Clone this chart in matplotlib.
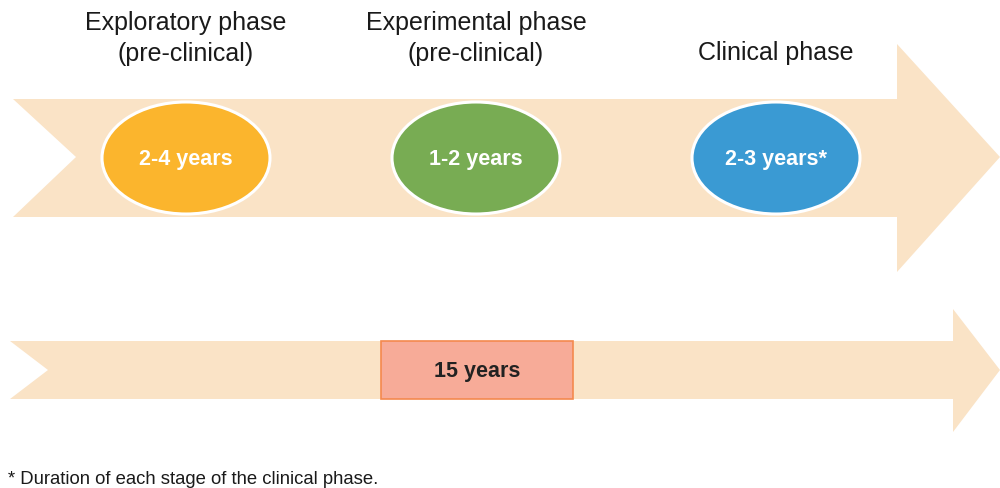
import matplotlib
matplotlib.use("Agg")
import matplotlib.pyplot as plt
from matplotlib.patches import Polygon, Ellipse, Rectangle

plt.rcParams["font.family"] = ["Liberation Sans", "DejaVu Sans"]

# phases along the top arrow
phase_titles = [["Exploratory phase", "(pre-clinical)"],
                ["Experimental phase", "(pre-clinical)"],
                ["Clinical phase"]]
phase_durations = ["2-4 years", "1-2 years", "2-3 years*"]
phase_colors = ["#FBB52D", "#78AC53", "#3A9AD3"]
phase_x = [186, 476, 776]

total_label = "15 years"
footnote = "* Duration of each stage of the clinical phase."

ARROW = "#FAE3C6"

fig = plt.figure(figsize=(10, 4.88), dpi=100)
ax = fig.add_axes([0, 0, 1, 1])
ax.set_xlim(0, 1000)
ax.set_ylim(488, 0)
ax.axis("off")

# top arrow
top = [(13, 99), (897, 99), (897, 44), (1000, 157), (897, 272),
       (897, 217), (13, 217), (76, 157)]
ax.add_patch(Polygon(top, closed=True, facecolor=ARROW, edgecolor="none"))

# bottom arrow
bot = [(10, 341), (953, 341), (953, 309), (1000, 370), (953, 432),
       (953, 399), (10, 399), (48, 370)]
ax.add_patch(Polygon(bot, closed=True, facecolor=ARROW, edgecolor="none"))

for x, lines, dur, col in zip(phase_x, phase_titles, phase_durations, phase_colors):
    ax.add_patch(Ellipse((x, 158), 168, 112, facecolor=col, edgecolor="white", lw=2.2))
    ax.text(x, 160, dur, ha="center", va="center", color="white",
            fontsize=15.5, fontweight="bold")
    ys = [23, 54] if len(lines) == 2 else [53]
    for y, line in zip(ys, lines):
        ax.text(x, y, line, ha="center", va="center", fontsize=18, color="#1a1a1a")

ax.add_patch(Rectangle((381, 341), 192, 58, facecolor="#F7AB98",
                       edgecolor="#F4894E", lw=1.2))
ax.text(477, 372, total_label, ha="center", va="center", fontsize=15.5,
        fontweight="bold", color="#222222")

ax.text(8, 479, footnote, ha="left", va="center", fontsize=13.3, color="#1a1a1a")

fig.savefig("out.png", dpi=100)
